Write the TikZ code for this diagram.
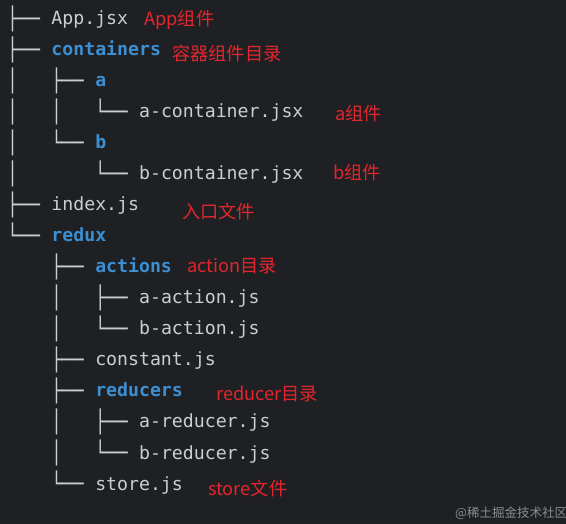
\documentclass[tikz,border=0pt]{standalone}
\usepackage{fontspec}
\setmonofont{DejaVu Sans Mono}
\newfontfamily\cjk{Noto Sans CJK SC}
\definecolor{bg}{HTML}{1F2023}
\definecolor{fg}{HTML}{CBCDD1}
\definecolor{dirblue}{HTML}{3C8FD2}
\definecolor{notered}{HTML}{E3262D}
\definecolor{wm}{HTML}{8B8C8E}
\newcommand{\treepfx}[1]{\raisebox{-1.2pt}{\scalebox{1}[1.21]{#1}}}
\tikzset{
  pfx/.style={anchor=base west,inner sep=0pt,font=\ttfamily\fontsize{18.2}{18.2}\selectfont,text=fg},
  file/.style={anchor=base west,inner sep=0pt,font=\ttfamily\fontsize{18.2}{18.2}\selectfont,text=fg},
  dir/.style={anchor=base west,inner sep=0pt,font=\ttfamily\bfseries\fontsize{18.2}{18.2}\selectfont,text=dirblue},
  note/.style={anchor=base west,inner sep=0pt,font=\cjk\fontsize{18.2}{18.2}\selectfont,text=notered}
}
\begin{document}
\begin{tikzpicture}[x=1pt,y=-1pt]
\fill[bg] (0,0) rectangle (566,524);
\useasboundingbox (0,0) rectangle (566,524);
% rows: baseline = 25 + 31 i
\node[pfx] (p0)  at (7,25)  {\treepfx{├──~}};
\node[file] (n0) at (p0.base east) {App.jsx};
\node[pfx] (p1)  at (7,56)  {\treepfx{├──~}};
\node[dir] (n1)  at (p1.base east) {containers};
\node[pfx] (p2)  at (7,87)  {\treepfx{│~~~├──~}};
\node[dir] (n2)  at (p2.base east) {a};
\node[pfx] (p3)  at (7,118) {\treepfx{│~~~│~~~└──~}};
\node[file] (n3) at (p3.base east) {a-container.jsx};
\node[pfx] (p4)  at (7,149) {\treepfx{│~~~└──~}};
\node[dir] (n4)  at (p4.base east) {b};
\node[pfx] (p5)  at (7,180) {\treepfx{│~~~~~~~└──~}};
\node[file] (n5) at (p5.base east) {b-container.jsx};
\node[pfx] (p6)  at (7,211) {\treepfx{├──~}};
\node[file] (n6) at (p6.base east) {index.js};
\node[pfx] (p7)  at (7,242) {\treepfx{└──~}};
\node[dir] (n7)  at (p7.base east) {redux};
\node[pfx] (p8)  at (7,273) {\treepfx{~~~~├──~}};
\node[dir] (n8)  at (p8.base east) {actions};
\node[pfx] (p9)  at (7,304) {\treepfx{~~~~│~~~├──~}};
\node[file] (n9) at (p9.base east) {a-action.js};
\node[pfx] (p10) at (7,335) {\treepfx{~~~~│~~~└──~}};
\node[file] (n10) at (p10.base east) {b-action.js};
\node[pfx] (p11) at (7,366) {\treepfx{~~~~├──~}};
\node[file] (n11) at (p11.base east) {constant.js};
\node[pfx] (p12) at (7,397) {\treepfx{~~~~├──~}};
\node[dir] (n12) at (p12.base east) {reducers};
\node[pfx] (p13) at (7,428) {\treepfx{~~~~│~~~├──~}};
\node[file] (n13) at (p13.base east) {a-reducer.js};
\node[pfx] (p14) at (7,459) {\treepfx{~~~~│~~~└──~}};
\node[file] (n14) at (p14.base east) {b-reducer.js};
\node[pfx] (p15) at (7,490) {\treepfx{~~~~└──~}};
\node[file] (n15) at (p15.base east) {store.js};
% notes
\node[note] (l0) at (144,26)  {App组件};
\node[note] (l1) at (172,61)  {容器组件目录};
\node[note] (l3) at (335,121) {a组件};
\node[note] (l5) at (333,180) {b组件};
\node[note] (l6) at (182,219) {入口文件};
\node[note] (l8) at (187,273) {action目录};
\node[note] (l12) at (216,401) {reducer目录};
\node[note] (l15) at (208,495) {store文件};
\node[anchor=base west,inner sep=0pt,font=\cjk\fontsize{12.5}{12.5}\selectfont,text=wm] (wm) at (455,517) {@稀土掘金技术社区};
\end{tikzpicture}
\end{document}
